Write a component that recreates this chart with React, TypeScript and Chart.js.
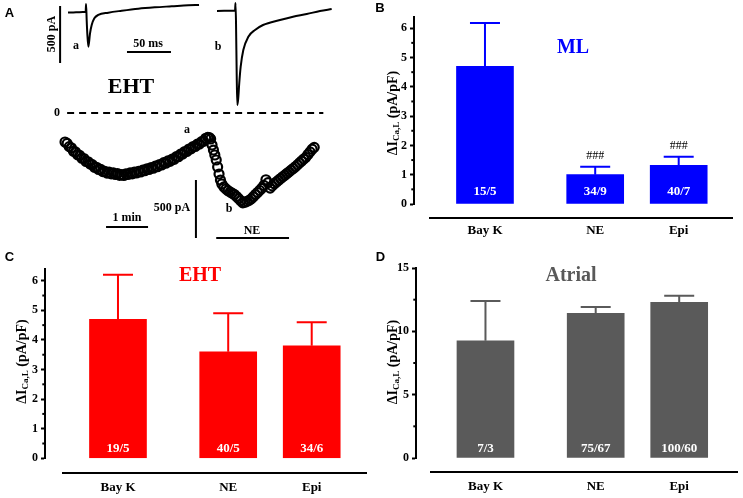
import React, { useEffect, useRef } from 'react';
import { Chart, registerables } from 'chart.js';

Chart.register(...registerables);

const SERIF = '"Liberation Serif", "DejaVu Serif", serif';
const SANS = '"Liberation Sans", Arial, sans-serif';

// ---------- Panels B, C, D data ----------
const categories = ['Bay K', 'NE', 'Epi'];
const categoryPositions = [0, 1.32, 2.32];

const mlMeans = [4.7, 1.0, 1.32];
const mlErrors = [1.48, 0.27, 0.29];
const mlCounts = ['15/5', '34/9', '40/7'];
const mlMarks = ['', '###', '###'];

const ehtMeans = [4.7, 3.6, 3.8];
const ehtErrors = [1.5, 1.3, 0.8];
const ehtCounts = ['19/5', '40/5', '34/6'];
const ehtMarks = ['', '', ''];

const atrialMeans = [9.25, 11.43, 12.28];
const atrialErrors = [3.15, 0.5, 0.52];
const atrialCounts = ['7/3', '75/67', '100/60'];
const atrialMarks = ['', '', ''];

const majorTicks6 = [0, 1, 2, 3, 4, 5, 6];
const minorTicks6 = [0.5, 1.5, 2.5, 3.5, 4.5, 5.5];
const majorTicks15 = [0, 5, 10, 15];
const minorTicks15 = [2.5, 7.5, 12.5];

// ---------- Panel A data ----------
const traceATimeMs = [0, 6, 12, 17, 20, 20.5, 21.2, 21.9, 23.1, 25, 26.9, 29.9, 34.4, 45.8, 61, 79.9, 98.9, 117.8, 136.7, 148.9];
const traceACurrentPA = [-5, -4, -2, -1, 0, 70, -70, -187, -304, -187, -114, -55, -26, -6, 11, 29, 41, 50, 59, 61];

const traceBTimeMs = [0, 8, 16, 20.5, 21, 21.6, 22.4, 23.1, 24.1, 25.3, 26.9, 29.9, 35.6, 43.2, 52.3, 71.6, 86.4, 102, 117, 130.3];
const traceBCurrentPA = [9, 10, 11, 11, 79, -90, -560, -816, -760, -623, -480, -333, -217, -158, -114, -70, -41, -18, 9, 26];

const courseTimeS = [
  0, 3, 6, 9, 12, 15, 18, 21, 24, 27, 30, 33, 36, 39, 42, 45, 48, 51, 54, 57,
  60, 63, 66, 69, 72, 75, 78, 81, 84, 87, 90, 93, 96, 99, 102, 105, 108, 111, 114, 117,
  120, 123, 126, 129, 132, 135, 138, 141, 144, 147, 150, 153, 156, 159, 162, 165, 168, 171, 174, 177,
  180, 183, 186, 189, 192, 195, 198, 201, 204,
  206, 208, 210, 212, 214, 216, 218, 220, 222, 224,
  227, 230, 233, 236, 239, 242, 245, 248, 251, 254, 257, 260, 263, 266, 269, 272, 275, 278, 281, 284,
  287, 290, 293, 296, 299, 302, 305, 308, 311, 314, 317, 320, 323, 326, 329, 332, 335, 338, 341, 344,
  347, 350, 353, 356,
];
const courseCurrentPA = [
  -250, -262, -290, -300, -330, -335, -360, -365, -390, -392, -418, -420, -440, -445, -468, -468, -487, -486, -505, -503,
  -518, -510, -524, -516, -530, -522, -537, -530, -538, -524, -530, -516, -524, -510, -517, -502, -508, -492, -497, -481,
  -487, -470, -476, -458, -463, -444, -448, -428, -433, -413, -417, -398, -399, -376, -377, -354, -354, -332, -331, -310,
  -309, -289, -288, -268, -268, -247, -244, -218, -210,
  -211, -224, -276, -319, -362, -405, -465, -526, -578, -612,
  -637, -655, -670, -681, -692, -703, -720, -738, -756, -774, -769, -761, -753, -740, -722, -703, -685, -667, -649, -624,
  -575, -600, -647, -628, -609, -594, -579, -565, -550, -536, -521, -507, -492, -478, -463, -447, -430, -414, -397, -382,
  -358, -335, -312, -296,
];

const scaleBarMs = 50;
const scaleBarTracePA = 500;
const scaleBarCourseS = 60;
const scaleBarCoursePA = 500;
const neStartS = 216;
const neEndS = 320;

function pairs(xs: number[], ys: number[]) {
  return xs.map((x, i) => ({ x, y: ys[i] }));
}

function drawText(ctx: CanvasRenderingContext2D, text: string, x: number, y: number, font: string, color = '#000', align: CanvasTextAlign = 'center') {
  ctx.save();
  ctx.font = font;
  ctx.fillStyle = color;
  ctx.textAlign = align;
  ctx.textBaseline = 'middle';
  ctx.fillText(text, x, y);
  ctx.restore();
}

function drawRotatedParts(ctx: CanvasRenderingContext2D, x: number, y: number, parts: { t: string; font: string; dy: number }[], color = '#000') {
  ctx.save();
  ctx.translate(x, y);
  ctx.rotate(-Math.PI / 2);
  ctx.fillStyle = color;
  ctx.textBaseline = 'middle';
  ctx.textAlign = 'left';
  let total = 0;
  const widths = parts.map((p) => {
    ctx.font = p.font;
    const w = ctx.measureText(p.t).width;
    total += w;
    return w;
  });
  let cx = -total / 2;
  parts.forEach((p, i) => {
    ctx.font = p.font;
    ctx.fillText(p.t, cx, p.dy);
    cx += widths[i];
  });
  ctx.restore();
}

type BarCfg = {
  x: number; y: number; width: number; height: number;
  letter: string; letterX: number; letterY: number;
  title: string; titleColor: string; titleX: number; titleY: number;
  color: string;
  means: number[]; errors: number[]; counts: string[]; marks: string[];
  yMax: number; majorTicks: number[]; minorTicks: number[];
  left: number; top: number; axisHeight: number; xMin: number; xMax: number;
  labelPad: number; baseY: number; baseX0: number; baseX1: number;
  countY: number; yTitleX: number; yTitleY: number;
};

const panelB: BarCfg = {
  x: 371, y: 0, width: 372, height: 249,
  letter: 'B', letterX: 9, letterY: 8,
  title: 'ML', titleColor: '#0000ff', titleX: 202, titleY: 48,
  color: '#0000ff',
  means: mlMeans, errors: mlErrors, counts: mlCounts, marks: mlMarks,
  yMax: 6.4, majorTicks: majorTicks6, minorTicks: minorTicks6,
  left: 43, top: 16.5, axisHeight: 45, xMin: -0.85, xMax: 3.09,
  labelPad: 19, baseY: 218, baseX0: 58, baseX1: 362,
  countY: 192, yTitleX: 22, yTitleY: 113,
};

const panelC: BarCfg = {
  x: 0, y: 249, width: 371, height: 249,
  letter: 'C', letterX: 9.5, letterY: 8.5,
  title: 'EHT', titleColor: '#ff0000', titleX: 200, titleY: 27,
  color: '#ff0000',
  means: ehtMeans, errors: ehtErrors, counts: ehtCounts, marks: ehtMarks,
  yMax: 6.4, majorTicks: majorTicks6, minorTicks: minorTicks6,
  left: 45, top: 19.9, axisHeight: 39.7, xMin: -0.874, xMax: 3.03,
  labelPad: 21.4, baseY: 224, baseX0: 62, baseX1: 367,
  countY: 200, yTitleX: 22, yTitleY: 112.5,
};

const panelD: BarCfg = {
  x: 371, y: 249, width: 372, height: 249,
  letter: 'D', letterX: 9.5, letterY: 8.5,
  title: 'Atrial', titleColor: '#595959', titleX: 200, titleY: 27,
  color: '#5a5a5a',
  means: atrialMeans, errors: atrialErrors, counts: atrialCounts, marks: atrialMarks,
  yMax: 15, majorTicks: majorTicks15, minorTicks: minorTicks15,
  left: 45, top: 19, axisHeight: 40, xMin: -0.832, xMax: 3.084,
  labelPad: 20.7, baseY: 223, baseX0: 59, baseX1: 367,
  countY: 200, yTitleX: 22, yTitleY: 113,
};

function BarPanel({ cfg }: { cfg: BarCfg }) {
  const ref = useRef<HTMLCanvasElement>(null);
  useEffect(() => {
    const decor = {
      id: 'decor' + cfg.letter,
      afterDatasetsDraw(chart: any) {
        const ctx: CanvasRenderingContext2D = chart.ctx;
        const xs = chart.scales.x;
        const ys = chart.scales.y;
        const area = chart.chartArea;
        // error bars
        ctx.save();
        ctx.strokeStyle = cfg.color;
        ctx.lineWidth = 2;
        cfg.means.forEach((m, i) => {
          const px = xs.getPixelForValue(categoryPositions[i]);
          const pm = ys.getPixelForValue(m);
          const pt = ys.getPixelForValue(m + cfg.errors[i]);
          ctx.beginPath();
          ctx.moveTo(px, pm);
          ctx.lineTo(px, pt);
          ctx.moveTo(px - 15, pt);
          ctx.lineTo(px + 15, pt);
          ctx.stroke();
          if (cfg.marks[i]) {
            drawText(ctx, cfg.marks[i], px, pt - 10.5, `12px ${SERIF}`, '#000');
          }
          drawText(ctx, cfg.counts[i], px, cfg.countY, `bold 13px ${SERIF}`, '#fff');
        });
        ctx.restore();
        // minor ticks
        ctx.save();
        ctx.strokeStyle = '#000';
        ctx.lineWidth = 2;
        cfg.minorTicks.forEach((v) => {
          const py = ys.getPixelForValue(v);
          ctx.beginPath();
          ctx.moveTo(area.left - 2.7, py);
          ctx.lineTo(area.left, py);
          ctx.stroke();
        });
        // baseline (offset x axis)
        ctx.beginPath();
        ctx.moveTo(cfg.baseX0, cfg.baseY);
        ctx.lineTo(cfg.baseX1, cfg.baseY);
        ctx.stroke();
        ctx.restore();
        drawText(ctx, cfg.title, cfg.titleX, cfg.titleY, `bold 20px ${SERIF}`, cfg.titleColor);
        drawText(ctx, cfg.letter, cfg.letterX, cfg.letterY, `bold 13px ${SANS}`, '#000');
        drawRotatedParts(ctx, cfg.yTitleX, cfg.yTitleY, [
          { t: 'ΔI', font: `bold 14px ${SERIF}`, dy: 0 },
          { t: 'Ca,L', font: `bold 9px ${SERIF}`, dy: 3.5 },
          { t: ' (pA/pF)', font: `bold 14px ${SERIF}`, dy: 0 },
        ]);
      },
    };
    const chart = new Chart(ref.current as HTMLCanvasElement, {
      type: 'bar',
      data: {
        datasets: [
          {
            data: pairs(categoryPositions, cfg.means),
            backgroundColor: cfg.color,
            borderWidth: 0,
            barThickness: 57,
          } as any,
        ],
      },
      options: {
        responsive: false,
        animation: false,
        events: [],
        layout: { autoPadding: false, padding: { top: cfg.top, left: 0, right: 0, bottom: 0 } },
        plugins: { legend: { display: false }, tooltip: { enabled: false } },
        scales: {
          x: {
            type: 'linear',
            min: cfg.xMin,
            max: cfg.xMax,
            offset: false,
            grid: { display: false, drawTicks: false, offset: false },
            border: { display: false },
            afterBuildTicks: (axis: any) => {
              axis.ticks = categoryPositions.map((v) => ({ value: v }));
            },
            afterFit: (axis: any) => {
              axis.height = cfg.axisHeight;
            },
            ticks: {
              callback: (_v: any, i: number) => categories[i],
              font: { family: SERIF, weight: 'bold', size: 13 },
              color: '#000',
              padding: cfg.labelPad,
              maxRotation: 0,
              autoSkip: false,
            },
          },
          y: {
            type: 'linear',
            min: 0,
            max: cfg.yMax,
            afterBuildTicks: (axis: any) => {
              axis.ticks = cfg.majorTicks.map((v) => ({ value: v }));
            },
            afterFit: (axis: any) => {
              axis.width = cfg.left;
            },
            ticks: {
              font: { family: SERIF, weight: 'bold', size: 12 },
              color: '#000',
              padding: 3,
              callback: (v: any) => String(v),
            },
            grid: { drawOnChartArea: false, tickLength: 4, tickWidth: 2, tickColor: '#000' },
            border: { display: true, width: 2, color: '#000' },
          },
        },
      } as any,
      plugins: [decor],
    });
    return () => chart.destroy();
  }, []);
  return (
    <canvas
      ref={ref}
      width={cfg.width}
      height={cfg.height}
      style={{ position: 'absolute', left: cfg.x, top: cfg.y, width: cfg.width, height: cfg.height }}
    />
  );
}

function PanelA() {
  const ref = useRef<HTMLCanvasElement>(null);
  useEffect(() => {
    const textPlugin = {
      id: 'panelAText',
      afterDraw(chart: any) {
        const ctx: CanvasRenderingContext2D = chart.ctx;
        const b12 = `bold 12px ${SERIF}`;
        drawText(ctx, 'A', 9.5, 13.5, `bold 13px ${SANS}`);
        drawRotatedParts(ctx, 52, 34, [{ t: '500 pA', font: b12, dy: 0 }]);
        drawText(ctx, 'a', 76, 46, b12);
        drawText(ctx, '50 ms', 148, 44, b12);
        drawText(ctx, 'b', 218, 47, b12);
        drawText(ctx, 'EHT', 131, 87, `bold 22px ${SERIF}`);
        drawText(ctx, '0', 57, 113, b12);
        drawText(ctx, 'a', 187, 130, b12);
        drawText(ctx, 'b', 229, 209, b12);
        drawText(ctx, '500 pA', 172, 208, b12);
        drawText(ctx, '1 min', 127, 218, b12);
        drawText(ctx, 'NE', 252, 231, b12);
      },
    };
    const line = (data: any[], xAxisID: string, yAxisID: string, extra: any = {}) => ({
      data, xAxisID, yAxisID, showLine: true, borderColor: '#000', borderWidth: 2, pointRadius: 0, fill: false, ...extra,
    });
    const chart = new Chart(ref.current as HTMLCanvasElement, {
      type: 'scatter',
      data: {
        datasets: [
          line(pairs(traceATimeMs, traceACurrentPA), 'xa', 'yt', { cubicInterpolationMode: 'monotone' }),
          line(pairs(traceBTimeMs, traceBCurrentPA), 'xb', 'yt', { cubicInterpolationMode: 'monotone' }),
          {
            data: pairs(courseTimeS, courseCurrentPA),
            xAxisID: 'xc', yAxisID: 'yc', showLine: false,
            pointRadius: 4.5, pointBorderWidth: 2.2, pointBorderColor: '#000', pointBackgroundColor: 'rgba(255,255,255,0)',
          },
          line([{ x: 3, y: 0 }, { x: 369, y: 0 }], 'xc', 'yc', { borderDash: [7, 5] }),
          line([{ x: -9, y: 53 }, { x: -9, y: 53 - scaleBarTracePA }], 'xa', 'yt'),
          line([{ x: 67, y: -351 }, { x: 67 + scaleBarMs, y: -351 }], 'xa', 'yt'),
          line([{ x: 58.6, y: -983 }, { x: 58.6 + scaleBarCourseS, y: -983 }], 'xc', 'yc'),
          line([{ x: 187, y: -578 }, { x: 187, y: -578 - scaleBarCoursePA }], 'xc', 'yc'),
          line([{ x: neStartS, y: -1078 }, { x: neEndS, y: -1078 }], 'xc', 'yc'),
        ] as any,
      },
      options: {
        responsive: false,
        animation: false,
        events: [],
        layout: { autoPadding: false, padding: 0 },
        plugins: { legend: { display: false }, tooltip: { enabled: false } },
        scales: {
          xa: { type: 'linear', axis: 'x', display: false, min: -77.3, max: 344.3 },
          xb: { type: 'linear', axis: 'x', display: false, min: -246.6, max: 175 },
          xc: { type: 'linear', axis: 'x', display: false, min: -92.9, max: 437.1 },
          yt: { type: 'linear', axis: 'y', display: false, min: -2078.5, max: 105.2 },
          yc: { type: 'linear', axis: 'y', display: false, min: -1172, max: 974 },
        },
      } as any,
      plugins: [textPlugin],
    });
    return () => chart.destroy();
  }, []);
  return (
    <canvas
      ref={ref}
      width={371}
      height={249}
      style={{ position: 'absolute', left: 0, top: 0, width: 371, height: 249 }}
    />
  );
}

export default function App() {
  return (
    <div style={{ position: 'fixed', left: 0, top: 0, width: 743, height: 498, background: '#fff', overflow: 'hidden' }}>
      <PanelA />
      <BarPanel cfg={panelB} />
      <BarPanel cfg={panelC} />
      <BarPanel cfg={panelD} />
    </div>
  );
}
